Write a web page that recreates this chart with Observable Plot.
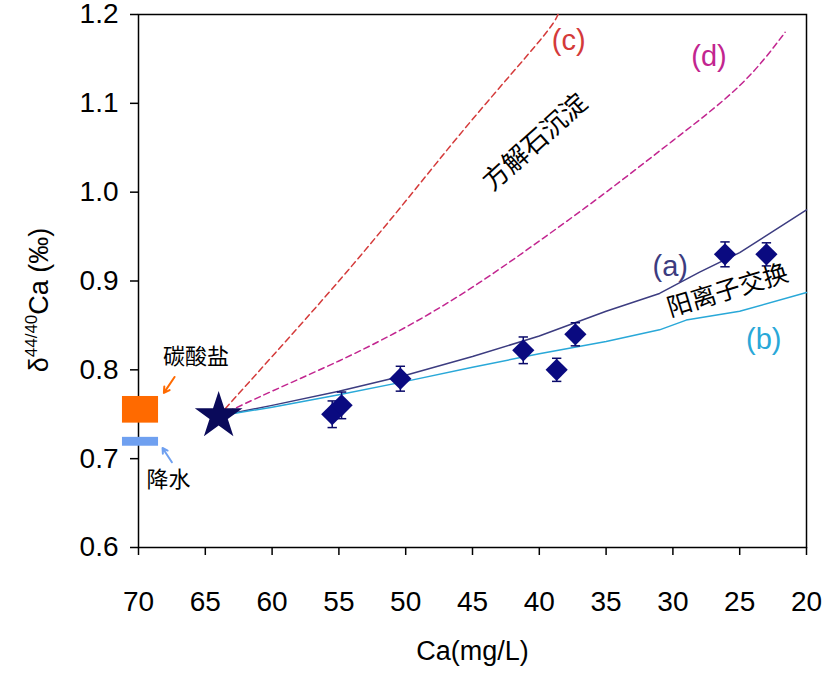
<!DOCTYPE html>
<html><head><meta charset="utf-8">
<script src="https://cdn.jsdelivr.net/npm/d3@7"></script>
<script src="https://cdn.jsdelivr.net/npm/@observablehq/plot@0.6"></script>
<style>body{margin:0;background:#fff;font-family:"Liberation Sans",Arial,sans-serif}</style>
</head><body><div id="c"></div>
<script>
const samplesCa = [55.5, 54.8, 50.4, 41.2, 38.7, 37.3, 26.1, 23.0];
const samplesD = [0.750, 0.760, 0.790, 0.822, 0.800, 0.840, 0.930, 0.930];
const samplesErr = [0.015, 0.015, 0.014, 0.015, 0.013, 0.013, 0.014, 0.013];
const start = {ca: 64, d: 0.748};
const lineA = [[64,0.748],[60,0.760],[55,0.776],[50,0.794],[45,0.815],[40,0.838],[35,0.866],[31,0.886],[28,0.910],[25,0.932],[20,0.980]];
const lineB = [[64,0.748],[60,0.758],[55,0.772],[50,0.787],[45,0.803],[40,0.818],[35,0.832],[31,0.845],[29,0.856],[25,0.866],[20,0.887]];
const lineC = [[64,0.748],[60,0.815],[55,0.900],[50,0.990],[45,1.082],[40,1.170],[38.6,1.20]];
const lineD = [[64,0.748],[60,0.776],[55,0.810],[50,0.848],[45,0.893],[40,0.945],[35,1.000],[30,1.058],[25,1.120],[21.6,1.180]];
const carbonate = {x1: 71.2, x2: 68.5, y1: 0.740, y2: 0.770};
const rain = {x1: 71.2, x2: 68.5, y1: 0.714, y2: 0.724};
const xTicks = [70,65,60,55,50,45,40,35,30,25,20];
const yTicks = [0.6,0.7,0.8,0.9,1.0,1.1,1.2];

const pts = samplesCa.map((c,i)=>({ca:c, d:samplesD[i], e:samplesErr[i]}));
const toObj = a => a.map(([ca,d])=>({ca,d}));
const F = '"Liberation Sans", Arial, sans-serif';

const plot = Plot.plot({
  width: 826, height: 677,
  marginLeft: 138, marginRight: 20, marginTop: 14, marginBottom: 130,
  style: {fontFamily: F, fontSize: "28px", color: "#000", overflow: "visible"},
  x: {type: "linear", domain: [70, 20], label: null},
  y: {type: "linear", domain: [0.6, 1.2], label: null},
  marks: [
    Plot.axisX({ticks: xTicks, tickSize: 8, tickPadding: 36, tickFormat: d => d, label: null, strokeWidth: 1.5}),
    Plot.axisY({ticks: yTicks, tickSize: 8, tickPadding: 12, tickFormat: d3.format(".1f"), label: null, strokeWidth: 1.5}),
    Plot.frame({stroke: "#000", strokeWidth: 1.5}),
    Plot.rect([carbonate], {x1: "x1", x2: "x2", y1: "y1", y2: "y2", fill: "#ff6a00", clip: false}),
    Plot.rect([rain], {x1: "x1", x2: "x2", y1: "y1", y2: "y2", fill: "#6fa0f0", clip: false}),
    Plot.line(toObj(lineC), {x: "ca", y: "d", stroke: "#d43a3a", strokeWidth: 1.5, strokeDasharray: "6,4", curve: "natural"}),
    Plot.line(toObj(lineD), {x: "ca", y: "d", stroke: "#c2258f", strokeWidth: 1.5, strokeDasharray: "6,4", curve: "natural"}),
    Plot.line(toObj(lineA), {x: "ca", y: "d", stroke: "#3c3c80", strokeWidth: 1.5}),
    Plot.line(toObj(lineB), {x: "ca", y: "d", stroke: "#29a8d8", strokeWidth: 1.5}),
    Plot.link(pts, {x1: "ca", x2: "ca", y1: d => d.d - d.e, y2: d => d.d + d.e, stroke: "#0a0a6a", strokeWidth: 1.5}),
    Plot.link(pts, {x1: d => d.ca + 0.35, x2: d => d.ca - 0.35, y1: d => d.d + d.e, y2: d => d.d + d.e, stroke: "#0a0a6a", strokeWidth: 1.5}),
    Plot.link(pts, {x1: d => d.ca + 0.35, x2: d => d.ca - 0.35, y1: d => d.d - d.e, y2: d => d.d - d.e, stroke: "#0a0a6a", strokeWidth: 1.5}),
    Plot.dot(pts, {x: "ca", y: "d", symbol: "diamond2", r: 10, fill: "#0a0a80", stroke: "none"}),
    Plot.dot([start], {x: "ca", y: "d", symbol: "star", r: 15, fill: "#0a0a5a", stroke: "none"}),
    Plot.arrow([{x1: 67.3, y1: 0.792, x2: 68.1, y2: 0.774}], {x1: "x1", y1: "y1", x2: "x2", y2: "y2", stroke: "#ff6a00", strokeWidth: 2, headLength: 6}),
    Plot.arrow([{x1: 67.5, y1: 0.696, x2: 68.2, y2: 0.712}], {x1: "x1", y1: "y1", x2: "x2", y2: "y2", stroke: "#6fa0f0", strokeWidth: 2, headLength: 6}),
    Plot.text(["碳酸盐"], {x: 65.7, y: 0.814, fontSize: 22, fill: "#000", fontFamily: "Noto Sans CJK SC"}),
    Plot.text(["降水"], {x: 67.75, y: 0.676, fontSize: 22, fill: "#000", fontFamily: "Noto Sans CJK SC"}),
    Plot.text(["方解石沉淀"], {x: 40.3, y: 1.056, rotate: -42, fontSize: 26, fill: "#000", fontFamily: "Noto Sans CJK SC"}),
    Plot.text(["阳离子交换"], {x: 25.9, y: 0.889, rotate: -17, fontSize: 25, fill: "#000", fontFamily: "Noto Sans CJK SC"}),
    Plot.text(["(c)"], {x: 37.8, y: 1.17, fontSize: 29, fill: "#d43a3a"}),
    Plot.text(["(d)"], {x: 27.3, y: 1.153, fontSize: 29, fill: "#c2258f"}),
    Plot.text(["(a)"], {x: 30.2, y: 0.916, fontSize: 29, fill: "#3c3c80"}),
    Plot.text(["(b)"], {x: 23.2, y: 0.834, fontSize: 29, fill: "#29a8d8"}),
    Plot.text(["Ca(mg/L)"], {frameAnchor: "bottom", dy: 112, fontSize: 27, fill: "#000"}),
  ]
});
document.getElementById("c").appendChild(plot);
const svg = d3.select(plot);
const t = svg.append("text").attr("transform", "translate(48,300) rotate(-90)")
  .attr("text-anchor", "middle").attr("font-size", 27).attr("fill", "#000")
  .attr("font-family", F);
t.append("tspan").text("δ");
t.append("tspan").attr("dy", -11).attr("font-size", 17).text("44/40");
t.append("tspan").attr("dy", 11).text("Ca (‰)");
</script></body></html>
